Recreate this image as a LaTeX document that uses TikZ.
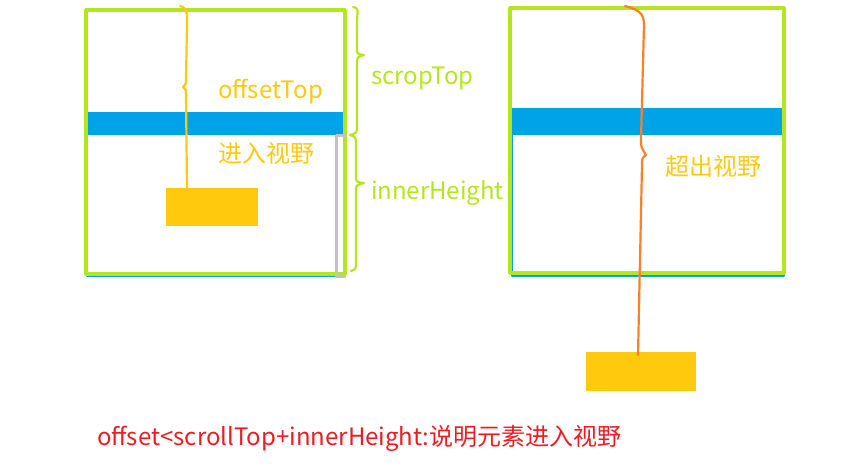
\documentclass[tikz,border=0pt]{standalone}
\usepackage{fontspec}
\setmainfont{Noto Sans CJK SC}
\usetikzlibrary{positioning}

\definecolor{lime}{HTML}{B5E61D}
\definecolor{sky}{HTML}{00A2E8}
\definecolor{gold}{HTML}{FFC90E}
\definecolor{tangerine}{HTML}{FF7F27}
\definecolor{alert}{HTML}{ED1C24}
\definecolor{silver}{HTML}{C3C3C3}

\begin{document}
\begin{tikzpicture}[x=1pt,y=-1pt,line join=round,line cap=round]
    \tikzstyle{every node}=[inner sep=0pt,outer sep=0pt,font=\fontsize{24}{28}\selectfont]
    \tikzstyle{winframe}=[draw=lime,line width=3.2pt,anchor=north west]
    \tikzstyle{viewport}=[draw=sky,line width=2pt,anchor=north west]
    \tikzstyle{bar}=[fill=sky,anchor=north west]
    \tikzstyle{elem}=[fill=gold,anchor=north west]
    \tikzstyle{label}=[anchor=west]
    \tikzstyle{brace}=[line width=2.2pt]
    \useasboundingbox (0,0) rectangle (856,474);

    % left panel: element inside the view
    \node[viewport] (lview)  at (87,113) [minimum width=258pt,minimum height=163pt] {};
    \node[bar]      (lbar)   at (87,113) [minimum width=258pt,minimum height=22pt] {};
    \node[winframe] (lwin)   at (86,10)  [minimum width=259pt,minimum height=264pt] {};
    \node[elem]     (lelem)  at (166,188) [minimum width=92pt,minimum height=38pt] {};
    \draw[silver,line width=3pt] (lbar.south east) -- ++(-9,0) coordinate (gtop)
        -- (gtop |- lview.south) -- (lview.south east);

    % right panel: element out of the view
    \node[viewport] (rview)  at (512,109) [minimum width=272pt,minimum height=167pt] {};
    \node[bar]      (rbar)   at (512,109) [minimum width=272pt,minimum height=26pt] {};
    \node[winframe] (rwin)   at (510,8)  [minimum width=274pt,minimum height=265pt] {};
    \node[elem]     (relem)  at (586,352) [minimum width=110pt,minimum height=39pt] {};

    % labels
    \node[label,text=gold] (offtop) at (218,92)  {offsetTop};
    \node[label,text=gold] (inside) at (218,153) {进入视野};
    \node[label,text=lime] (scrtop) at (371,78)  {scropTop};
    \node[label,text=lime] (innerh) at (371,193) {innerHeight};
    \node[label,text=gold] (beyond) at (665,166) {超出视野};
    \node[label,text=alert] (rule) at (97,438) {offset<scrollTop+innerHeight:说明元素进入视野};

    % braces
    \coordinate (ltop) at (180,6);
    \coordinate (rtop) at (625,6);
    \coordinate (gstart) at (353,7);
    \coordinate (gmid) at (350,135);
    \coordinate (gend) at (351,271);
    \draw[brace,gold] (ltop) .. controls (188,8) and (187,14) .. (187,25) -- (186,78)
        .. controls (186,84) .. (183,87) .. controls (186,89) .. (186,96) -- (lelem.north -| 187,0);
    \draw[brace,lime] (gstart) .. controls (358,8) .. (357,20) -- (357,48)
        .. controls (357,54) .. (364,55) .. controls (357,57) .. (357,64) -- (357,126)
        .. controls (357,133) .. (gmid);
    \draw[brace,lime] (gmid) .. controls (356,137) .. (356,145) -- (356,176)
        .. controls (356,182) .. (364,183) .. controls (356,185) .. (356,192) -- (356,262)
        .. controls (356,269) .. (gend);
    \draw[brace,tangerine] (rtop) .. controls (640,10) and (644,14) .. (644,25) -- (641,140)
        .. controls (641,147) .. (646,155) .. controls (642,158) .. (642,165) -- ([yshift=-3pt]relem.north -| 638,0);
\end{tikzpicture}
\end{document}
